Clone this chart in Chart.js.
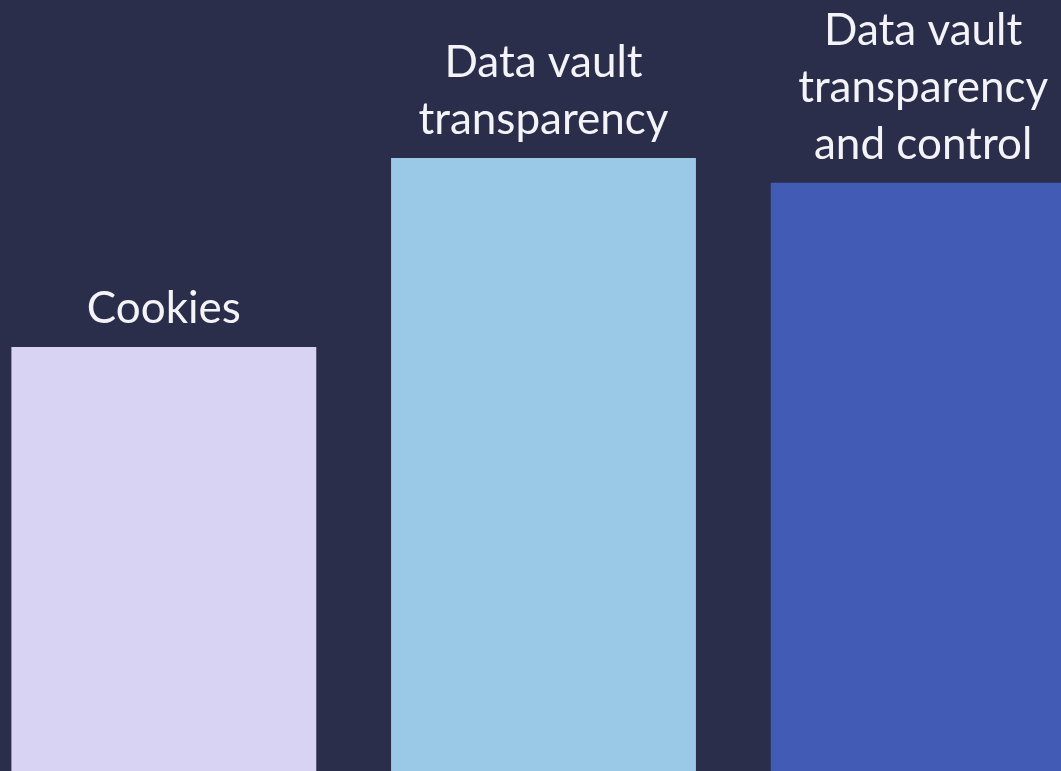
<!DOCTYPE html>
<html>
<head>
<meta charset="utf-8">
<script src="https://cdn.jsdelivr.net/npm/chart.js@4"></script>
<style>
  html, body { margin: 0; padding: 0; background: #2a2e4b; overflow: hidden; }
  #wrap { position: absolute; left: -26px; top: 0; width: 1139px; height: 771px; }
</style>
</head>
<body>
<div id="wrap"><canvas id="grafico"></canvas></div>
<script>
// dados do gráfico
const categorias = [
  ["Cookies"],
  ["Data vault", "transparency"],
  ["Data vault", "transparency", "and control"]
];
const valores = [55.0, 79.5, 76.3];
const cores = ["#d9d3f3", "#99c9e6", "#425cb6"];

// rótulos acima das barras
const rotulosPlugin = {
  id: "rotulos",
  afterDatasetsDraw(chart) {
    const ctx = chart.ctx;
    const meta = chart.getDatasetMeta(0);
    ctx.save();
    ctx.fillStyle = "#f4f4f8";
    ctx.font = "400 44px Lato";
    ctx.textAlign = "center";
    ctx.textBaseline = "alphabetic";
    meta.data.forEach(function(bar, i) {
      const linhas = categorias[i];
      for (let j = 0; j < linhas.length; j++) {
        const y = bar.y - 24 - (linhas.length - 1 - j) * 57;
        ctx.fillText(linhas[j], bar.x, y);
      }
    });
    ctx.restore();
  }
};

new Chart(document.getElementById("grafico").getContext("2d"), {
  type: "bar",
  data: {
    labels: categorias,
    datasets: [{
      data: valores,
      backgroundColor: cores,
      barPercentage: 0.803,
      categoryPercentage: 1
    }]
  },
  options: {
    responsive: true,
    maintainAspectRatio: false,
    animation: false,
    layout: { padding: 0 },
    plugins: { legend: { display: false }, tooltip: { enabled: false } },
    scales: {
      x: { display: false },
      y: { display: false, min: 0, max: 100 }
    }
  },
  plugins: [rotulosPlugin]
});
</script>
</body>
</html>
